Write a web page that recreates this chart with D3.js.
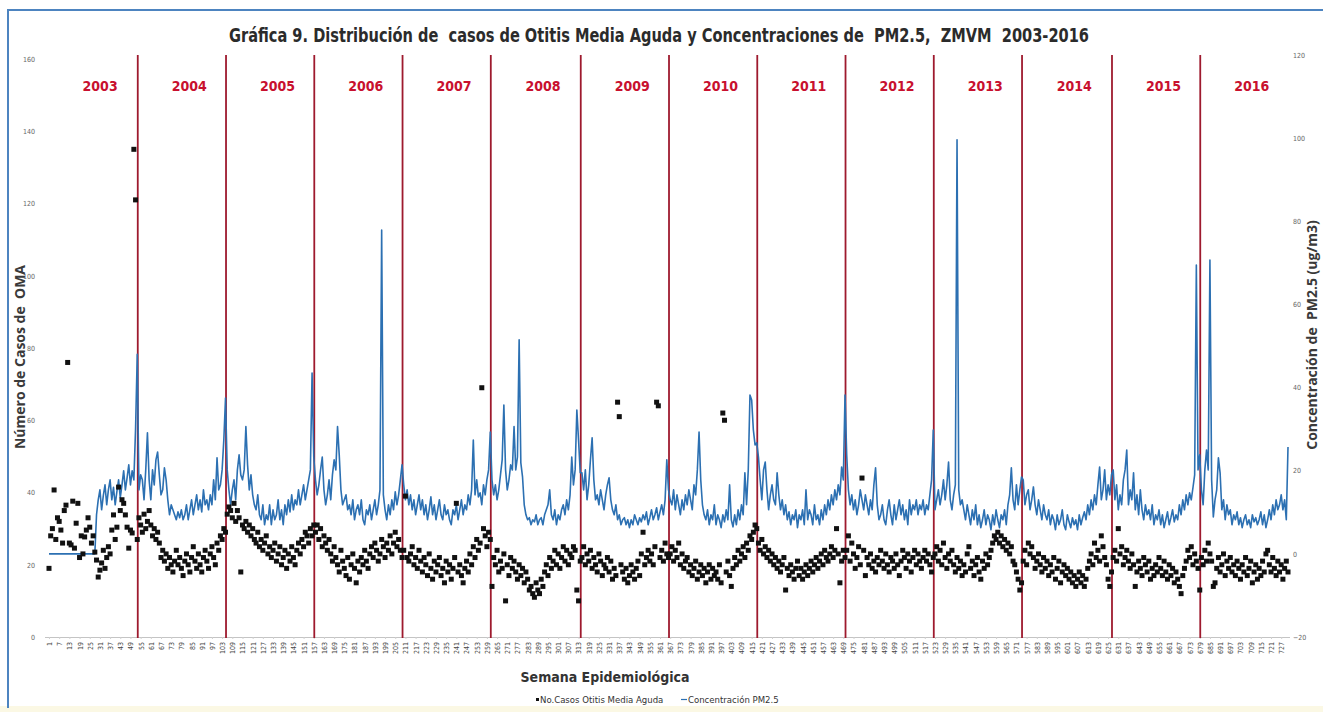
<!DOCTYPE html>
<html>
<head>
<meta charset="utf-8">
<script src="https://cdn.jsdelivr.net/npm/d3@7"></script>
<style>
  html, body { margin: 0; padding: 0; background: #fff; }
  svg { display: block; }
</style>
</head>
<body>
<div id="chart"></div>
<script>
// Years, weeks per epidemiological year
const years = ['2003','2004','2005','2006','2007','2008','2009','2010','2011','2012','2013','2014','2015','2016'];
const weeksPerYear = [53,52,52,52,52,53,52,52,52,52,52,53,52,52];

// No. casos OMA per week (left axis)
const casos2003 = [19,28,30,40.7,27,33,32,29.6,26,35,36.5,76,26,25.5,37.6,24.6,31.5,37,22,28,23,27.7,29.6,33,30.4,26,28,23.5,21.3,16.6,18.5,20.5,24,19,22,25,23,29.6,33.8,27,30.4,41.5,35,38,37,33.8,30.4,24.6,29.6,28.8,135,121,27];
const casos2004 = [33,31,29,34,30,32,35,31,28,30,27,29,26,22,24,21,23,19,22,20,18,21,24,20,22,19,17,21,23,20,18,22,25,21,19,23,20,18,22,24,21,19,23,25,22,20,26,24,28,27,30,29];
const casos2005 = [34,36,35,33,37,32,35,33,18,31,30,32,29,31,28,30,27,26,29,25,27,24,26,28,23,25,22,24,26,21,23,25,20,22,24,19,23,21,25,22,20,24,26,23,27,25,29,28,26,30,28,31];
const casos2006 = [29,31,27,30,25,28,26,24,27,23,21,25,22,20,18,24,21,19,17,22,16,20,23,19,15,21,18,22,20,24,21,19,23,25,22,26,24,21,23,27,25,22,26,24,28,23,26,29,25,27,24,22];
const casos2007 = [24,39,22,21,23,25,20,22,19,24,21,18,22,20,17,23,19,16,21,18,20,22,17,19,15,21,18,20,16,19,22,37,18,20,17,15,19,21,18,23,20,25,22,27,24,26,69,30,28,25,29,27];
const casos2008 = [14,22,20,24,18,21,19,23,10,20,17,22,19,21,18,16,20,17,19,15,18,16,13,14,12,11,15,13,12,16,14,18,20,17,22,19,21,24,20,23,19,22,25,21,24,20,23,22,25,24,13,10,21];
const casos2009 = [22,25,20,23,21,24,19,22,20,18,23,21,17,20,19,22,18,21,16,19,17,65,61,20,18,16,19,15,17,20,18,16,19,21,17,23,29,20,22,24,21,23,20,25,65,64,22,24,21,26,23,22];
const casos2010 = [23,25,21,24,22,26,20,23,19,21,22,18,20,17,19,21,16,18,20,17,19,15,18,20,16,19,17,18,16,20,15,62,60,18,21,17,14,19,22,20,24,21,23,25,22,26,24,28,27,29,31,30];
const casos2011 = [26,24,27,23,25,22,24,21,23,20,22,19,21,18,20,22,13,19,17,20,18,16,19,21,17,19,16,18,20,17,19,21,18,20,22,19,21,23,20,24,22,21,23,25,22,24,30,23,15,21,24,22];
const casos2012 = [24,28,21,26,23,19,22,25,20,44,24,17,22,20,23,19,21,18,22,20,24,21,19,23,20,18,22,21,19,23,20,17,21,24,22,19,23,21,18,22,24,20,23,21,19,22,24,21,23,20,18,22];
const casos2013 = [23,25,21,24,20,26,22,19,23,21,24,20,18,22,19,21,17,20,18,23,25,19,21,17,20,22,18,16,21,19,23,20,22,24,26,28,27,29,26,28,25,27,24,26,23,25,21,20,18,16,13,15];
const casos2014 = [21,24,20,26,23,25,22,19,21,23,20,18,22,19,21,17,20,18,22,16,19,21,15,18,20,17,19,16,18,15,17,14,16,18,15,17,14,16,19,21,23,20,26,22,24,21,28,25,22,20,16,14,18];
const casos2015 = [22,24,21,30,23,25,20,22,24,21,19,23,20,14,18,21,19,17,22,20,18,21,16,19,17,20,18,22,19,17,21,18,16,20,17,19,15,18,16,14,12,17,19,21,24,22,25,20,23,21,19,13];
const casos2016 = [22,20,24,21,26,23,21,14,15,19,22,18,20,23,17,21,19,22,18,20,17,21,19,16,20,18,22,17,19,21,15,18,20,16,19,17,21,18,23,24,20,18,22,19,17,21,18,20,16,19,21,18];

// Concentracion PM2.5 per week (right axis)
const pm2003 = [0,0,0,0,0,0,0,0,0,0,0,0,0,0,0,0,0,0,0,0,0,0,0,0,0,0,0,0,9.4,13,15.4,10.6,14,16.6,11.8,15.4,17.8,13,16,11.8,15,17.8,13.5,16.6,20,15.4,18.3,21.4,16.6,20,17.8,30,48];
const pm2004 = [15.4,19,17.8,13,20.2,29.1,17.8,13,20.2,16.6,22.6,24.5,19,14.2,15.4,20.7,17.8,13,9.4,11.8,10.6,9.4,8.2,10.1,8.7,10.6,8.2,9.4,11.8,8.2,10.6,13,9.4,11.8,14.2,10.6,13,10.1,15.4,11.8,13,10.6,14.2,11.8,17.8,13,23.1,15.4,16.6,20.2,27.4,37.5];
const pm2005 = [20.2,15.4,11.8,15.4,17.8,13,20.2,23.8,19,17.8,20.2,30.6,21.4,15.4,19,14.2,11.8,10.6,14.2,9.4,8.2,11.8,7,9.4,8.2,11.8,7,10.6,8.2,9.4,13,8.2,10.6,7,11.8,9.4,13,10.1,14.2,10.6,13,11.8,15.4,11.8,14.2,16.6,13,15.4,17.8,20.2,43.5,23.3];
const pm2006 = [17.8,14.2,16.6,20.2,23.3,15.4,11.8,14.2,17.8,13,19,22.6,20.2,30.6,23.8,15.4,11.8,13,14.2,10.6,11.8,9.4,13,8.2,10.6,11.8,9.4,13,8.2,7,10.6,9.4,11.8,8.2,10.6,13,9.4,11.8,15.4,77.9,14.2,10.6,8.2,11.8,9.4,13,10.6,14.9,11.8,14.2,17.8,21.4];
const pm2007 = [16.6,13,15.4,11.8,14.2,10.6,13,9.4,11.8,14.2,10.6,13,9.4,11.8,8.2,10.6,13.7,9.4,11.8,8.2,10.6,13,9.4,8.2,11.8,9.4,10.6,8.2,7,10.6,9.4,11.8,8.2,10.6,13,9.4,11.8,10.6,14.2,11.8,15.4,27.4,14.2,17.8,13.7,14.7,11.8,16.6,14.2,17.8,20.2,29.3];
const pm2008 = [17.8,14.2,16.6,13,15.4,19,22.6,35.8,20.2,15.4,17.8,21.4,20.2,30.6,20.2,23.3,51.5,21.9,18.5,11.8,9.4,8.2,8.7,7,8.2,7.7,9.4,7,8.2,8.7,7,9.4,10.6,11.8,15.4,9.4,8.2,10.6,7,9.4,8.2,10.6,11.8,9.4,13,10.6,14.2,23.3,16.6,20.2,34.6,27.4,19.5];
const pm2009 = [19.5,15.4,20.2,13,16.6,22.6,27.9,17.8,13,14.2,11.8,15.4,13,10.6,14.2,16.6,18.3,13,10.6,9.4,11.8,8.2,9.4,7,8.2,8.7,7,8.2,6.3,8.2,7,9.4,8.2,7,8.7,7.7,9.4,8.2,10.1,7,8.7,10.6,8.2,9.4,11.1,8.2,10.1,11.8,9.4,13,22.6,15.4];
const pm2010 = [13,11.8,15.4,10.6,14.2,11.8,9.4,13,10.6,14.2,11.8,15.4,13,10.6,16.6,14.2,20.2,29.3,17.8,11.8,9.4,8.2,10.6,7,9.4,8.2,11.8,7,9.4,8.2,6.3,9.4,7.7,10.6,8.2,16.6,8.2,6.5,9.4,7,10.6,8.2,11.8,9.4,19.5,11.8,20.2,38.2,37,29.8,26.2,26.7];
const pm2011 = [23.3,17.8,13,20.2,22.1,15.4,10.6,14.2,16.6,13,11.8,19.5,14.2,10.6,13,9.4,11.8,8.2,10.1,7,9.4,8.2,10.6,6.3,9.4,8.2,10.6,7,15.4,8.2,10.6,9.4,7,11.8,8.2,9.4,7,10.6,8.2,11.8,9.4,13,10.6,14.2,11.8,15.4,13,16.6,14.2,20.9,17.8,38.2];
const pm2012 = [23.8,15.4,11.8,14.2,10.6,13,9.4,11.8,15.4,13,10.6,14.2,11.8,9.4,13,10.6,16.6,20.7,11.8,8.2,9.4,11.8,8.2,7,10.6,13,9.4,7,11.8,8.2,10.6,13,9.4,11.8,8.2,10.6,7,13,9.4,11.8,10.6,13,9.4,11.8,10.6,13,9.4,11.8,10.6,14.2,17.8,29.8];
const pm2013 = [10.6,13,15.4,11.8,14.2,17.8,13,16.6,22.1,13,10.6,14.2,16.6,99.6,15.4,11.8,13,10.6,8.2,11.8,9.4,7,10.6,8.2,11.8,7,9.4,6.3,8.2,10.6,7,9.4,8.2,5.8,9.4,7,10.6,8.2,6.3,9.4,8.2,10.6,7,11.8,14.2,20.7,13,10.6,16.6,11.8,15.4,18.5];
const pm2014 = [17.8,11.8,14.2,15.4,10.6,13,16.1,11.8,9.4,13,10.6,8.2,11.8,9.4,8.2,10.6,7,9.4,8.2,5.8,9.4,7,8.2,10.6,7,5.8,9.4,7.7,6.3,8.7,7,8.2,5.8,9.4,7,8.7,10.1,8.2,11.8,9.4,13,10.6,14.2,11.8,16.6,20.9,13,15.4,20.2,13,16.6,14.2,19];
const pm2015 = [20.2,13,16.6,10.6,14.2,11.8,17.8,20.2,25,11.8,15.4,13,19.5,10.6,14.2,9.4,15.4,10.6,8.2,11.8,9.4,10.6,8.2,11.8,7,9.4,8.2,10.6,7,9.4,6.3,8.2,10.1,7,8.7,10.6,7.7,9.4,8.2,11.8,9.4,13,10.6,14.2,11.8,14.7,13,15.9,19,69.5,20.2,23.8];
const pm2016 = [15.4,11.8,20.2,25,20.2,70.7,17.8,8.9,13,15.4,23.1,19.5,10.6,13,8.2,11.8,9.4,10.6,7,9.4,8.2,10.1,7,8.7,6.3,8.2,9.4,7,8.2,6.3,9.4,7.7,8.7,7,8.2,10.1,7,9.4,6.3,8.2,10.6,8.2,11.8,9.4,13,10.6,11.8,14.2,10.6,13,8.2,25.7];

// Axis ticks
const leftTicks = [0,20,40,60,80,100,120,140,160];
const rightTicks = [-20,0,20,40,60,80,100,120];
const weekTickStep = 6;

const casos = [].concat(casos2003,casos2004,casos2005,casos2006,casos2007,casos2008,casos2009,
  casos2010,casos2011,casos2012,casos2013,casos2014,casos2015,casos2016);
const pm = [].concat(pm2003,pm2004,pm2005,pm2006,pm2007,pm2008,pm2009,
  pm2010,pm2011,pm2012,pm2013,pm2014,pm2015,pm2016);
const nWeeks = d3.sum(weeksPerYear);

const width = 1323, height = 712;
const svg = d3.select('#chart').append('svg')
  .attr('width', width).attr('height', height);

const fontC = '"Liberation Sans Narrow", "DejaVu Sans Condensed", "Open Sans", sans-serif';

// frame
svg.append('rect').attr('x', 0).attr('y', 706).attr('width', width).attr('height', 6).attr('fill', '#fbf8e4');
svg.append('path').attr('d', `M8,708V10H${width}`)
  .attr('fill', 'none').attr('stroke', '#4d84c0').attr('stroke-width', 2);

// scales
const x = d3.scaleLinear().domain([1, nWeeks]).range([49, 1288]);
const yL = d3.scaleLinear().domain([0, 160]).range([637, 59]);
const yR = d3.scaleLinear().domain([-20, 120]).range([637, 55]);

// title
svg.append('text')
  .attr('x', 659).attr('y', 42)
  .attr('text-anchor', 'middle')
  .attr('textLength', 860).attr('lengthAdjust', 'spacingAndGlyphs')
  .style('white-space', 'pre')
  .attr('font-family', fontC).attr('font-weight', 'bold').attr('font-size', 20)
  .attr('fill', '#2b2b2b')
  .text('Gráfica 9. Distribución de  casos de Otitis Media Aguda y Concentraciones de  PM2.5,  ZMVM  2003-2016');

// left axis
const gL = svg.append('g').attr('transform', 'translate(38,0)')
  .call(d3.axisLeft(yL).tickValues(leftTicks).tickSize(0).tickPadding(3));
gL.select('.domain').remove();
gL.selectAll('text').attr('font-size', 7).attr('fill', '#666').attr('font-family', fontC);

// right axis
const gR = svg.append('g').attr('transform', 'translate(1290,0)')
  .call(d3.axisRight(yR).tickValues(rightTicks).tickSize(0).tickPadding(3));
gR.select('.domain').remove();
gR.selectAll('text').attr('font-size', 7).attr('fill', '#666').attr('font-family', fontC);

// x axis
const weekTicks = d3.range(1, nWeeks + 1, weekTickStep);
const gX = svg.append('g').attr('transform', 'translate(0,637)')
  .call(d3.axisBottom(x).tickValues(weekTicks).tickSize(2).tickSizeOuter(0));
gX.select('.domain').attr('stroke', '#c4c4c4').attr('d', 'M45,0.5H1290');
gX.selectAll('line').attr('stroke', '#d0d0d0');
gX.selectAll('text')
  .attr('font-size', 7).attr('fill', '#444').attr('font-family', fontC)
  .attr('text-anchor', 'end')
  .attr('transform', 'rotate(-90)')
  .attr('x', -5).attr('y', 0).attr('dy', '0.35em');

// year separators and labels
let start = 1;
const yearInfo = years.map((yr, i) => {
  const o = { yr, first: start, last: start + weeksPerYear[i] - 1 };
  start += weeksPerYear[i];
  return o;
});
svg.append('g').selectAll('line')
  .data(yearInfo.slice(1))
  .join('line')
  .attr('x1', d => x(d.first - 0.7)).attr('x2', d => x(d.first - 0.7))
  .attr('y1', 55).attr('y2', 638)
  .attr('stroke', '#9e1a2e').attr('stroke-width', 1.8);
svg.append('g').selectAll('text')
  .data(yearInfo)
  .join('text')
  .attr('x', d => (x(d.first) + x(d.last)) / 2 + 7)
  .attr('y', 91)
  .attr('text-anchor', 'middle')
  .attr('font-family', fontC).attr('font-weight', 'bold').attr('font-size', 14)
  .attr('fill', '#c8102e')
  .text(d => d.yr);

// PM2.5 line
const line = d3.line()
  .x((d, i) => x(i + 1))
  .y(d => yR(d));
svg.append('path')
  .datum(pm)
  .attr('d', line)
  .attr('fill', 'none')
  .attr('stroke', '#2c70b2')
  .attr('stroke-width', 1.6)
  .attr('stroke-linejoin', 'round');

// OMA points
svg.append('g').selectAll('rect')
  .data(casos)
  .join('rect')
  .attr('x', (d, i) => x(i + 1) - 2.5)
  .attr('y', d => yL(d) - 2.5)
  .attr('width', 5).attr('height', 5)
  .attr('fill', '#111');

// axis titles
svg.append('text')
  .attr('transform', 'translate(25,357) rotate(-90)')
  .attr('text-anchor', 'middle')
  .style('white-space', 'pre')
  .attr('font-family', '"Open Sans", sans-serif').attr('font-weight', 'bold').attr('font-size', 14)
  .attr('fill', '#3a3a3a')
  .text('Número de Casos de  OMA');

svg.append('text')
  .attr('transform', 'translate(1317,335) rotate(-90)')
  .attr('text-anchor', 'middle')
  .style('white-space', 'pre')
  .attr('font-family', '"Open Sans", sans-serif').attr('font-weight', 'bold').attr('font-size', 14)
  .attr('fill', '#3a3a3a')
  .text('Concentración de  PM2.5 (ug/m3)');

svg.append('text')
  .attr('x', 605).attr('y', 682)
  .attr('text-anchor', 'middle')
  .attr('font-family', fontC).attr('font-weight', 'bold').attr('font-size', 14)
  .attr('fill', '#333')
  .text('Semana Epidemiológica');

// legend
const lg = svg.append('g').attr('transform', 'translate(0,703)');
lg.append('rect').attr('x', 536).attr('y', -5).attr('width', 3).attr('height', 3).attr('fill', '#111');
lg.append('text').attr('x', 540).attr('y', 0)
  .attr('font-family', fontC).attr('font-size', 9.5).attr('fill', '#333')
  .text('No.Casos Otitis Media Aguda');
lg.append('line').attr('x1', 681).attr('x2', 687).attr('y1', -3.5).attr('y2', -3.5)
  .attr('stroke', '#2c70b2').attr('stroke-width', 1.2);
lg.append('text').attr('x', 688).attr('y', 0)
  .attr('font-family', fontC).attr('font-size', 9.5).attr('fill', '#333')
  .text('Concentración PM2.5');
</script>
</body>
</html>
